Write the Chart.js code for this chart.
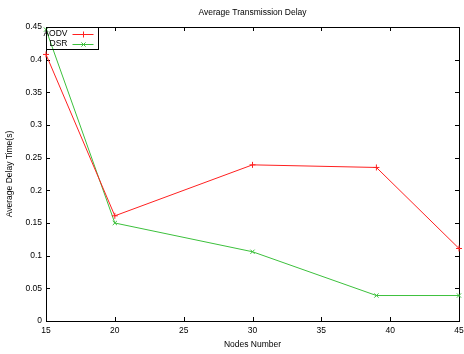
<!DOCTYPE html>
<html>
<head>
<meta charset="utf-8">
<script src="https://cdn.jsdelivr.net/npm/chart.js@4.4.0/dist/chart.umd.min.js"></script>
<style>
  html, body { margin: 0; padding: 0; background: #fff; }
  #wrap { width: 464px; height: 354px; }
</style>
</head>
<body>
<div id="wrap"><canvas id="delayChart"></canvas></div>
<script>
// values
const nodes = [15, 20, 30, 39, 45];
const aodvDelay = [0.408, 0.161, 0.239, 0.235, 0.111];
const dsrDelay = [0.446, 0.150, 0.106, 0.039, 0.039];
const xTicks = [15, 20, 25, 30, 35, 40, 45];
const yTicks = [0, 0.05, 0.1, 0.15, 0.2, 0.25, 0.3, 0.35, 0.4, 0.45];

const FONT = { family: 'Liberation Sans', size: 8.5, weight: 'normal' };

document.addEventListener("DOMContentLoaded", function () {

    /**
     * gnuplot look: frame with inward tick marks on all four sides
     */
    const framePlugin = {
        id: 'frame',
        beforeDatasetsDraw(chart) {
            const ctx = chart.ctx;
            const a = chart.chartArea;
            const xs = chart.scales.x, ys = chart.scales.y;
            ctx.save();
            ctx.strokeStyle = '#000';
            ctx.lineWidth = 1;
            ctx.beginPath();
            xTicks.forEach(function (v) {
                const px = Math.round(xs.getPixelForValue(v)) + 0.5;
                ctx.moveTo(px, a.bottom); ctx.lineTo(px, a.bottom - 4);
                ctx.moveTo(px, a.top); ctx.lineTo(px, a.top + 4);
            });
            yTicks.forEach(function (v) {
                const py = Math.round(ys.getPixelForValue(v)) + 0.5;
                ctx.moveTo(a.left, py); ctx.lineTo(a.left + 4, py);
                ctx.moveTo(a.right, py); ctx.lineTo(a.right - 4, py);
            });
            ctx.stroke();
            ctx.strokeRect(Math.round(a.left) + 0.5, Math.round(a.top) + 0.5,
                Math.round(a.right - a.left), Math.round(a.bottom - a.top));
            ctx.restore();
        },
        // key box in the top-left corner of the plot
        afterDraw(chart) {
            const ctx = chart.ctx;
            const a = chart.chartArea;
            const x0 = Math.round(a.left) + 0.5, y0 = Math.round(a.top) + 0.5;
            ctx.save();
            ctx.strokeStyle = '#000';
            ctx.lineWidth = 1;
            ctx.strokeRect(x0, y0, 52, 22);
            ctx.font = FONT.size + 'px ' + FONT.family;
            ctx.textAlign = 'right';
            ctx.textBaseline = 'middle';
            chart.data.datasets.forEach(function (ds, i) {
                const y = y0 + 6.5 + i * 10;
                ctx.fillStyle = '#000';
                ctx.fillText(ds.label, x0 + 21, y);
                ctx.strokeStyle = ds.borderColor;
                ctx.beginPath();
                ctx.moveTo(x0 + 26, Math.round(y) + 0.5);
                ctx.lineTo(x0 + 47, Math.round(y) + 0.5);
                ctx.stroke();
                Chart.helpers.drawPoint(ctx, {
                    pointStyle: ds.pointStyle, radius: 3, rotation: 0, borderWidth: 1
                }, x0 + 37, Math.round(y) + 0.5);
            });
            ctx.restore();
        }
    };

    new Chart(document.getElementById('delayChart'), {
        type: 'line',
        data: {
            datasets: [{
                label: 'AODV',
                data: nodes.map((n, i) => ({ x: n, y: aodvDelay[i] })),
                borderColor: '#ff2020',
                backgroundColor: '#ff2020',
                borderWidth: 1,
                pointStyle: 'cross',
                pointRadius: 3,
                pointBorderWidth: 1,
                tension: 0
            }, {
                label: 'DSR',
                data: nodes.map((n, i) => ({ x: n, y: dsrDelay[i] })),
                borderColor: '#3cc03c',
                backgroundColor: '#3cc03c',
                borderWidth: 1,
                pointStyle: 'crossRot',
                pointRadius: 3,
                pointBorderWidth: 1,
                tension: 0
            }]
        },
        options: {
            responsive: true,
            maintainAspectRatio: false,
            animation: false,
            clip: false,
            layout: { padding: { left: 0, right: 3, top: 0, bottom: 0 } },
            plugins: {
                legend: { display: false },
                tooltip: { enabled: false },
                title: {
                    display: true,
                    fullSize: false,
                    text: 'Average Transmission Delay',
                    color: '#000',
                    font: FONT,
                    padding: { top: 8, bottom: 8.8 }
                }
            },
            scales: {
                x: {
                    type: 'linear',
                    min: 15,
                    max: 45,
                    afterBuildTicks: function (scale) {
                        scale.ticks = xTicks.map(v => ({ value: v }));
                    },
                    afterFit: function (scale) {
                        scale.height = 33;
                        scale.paddingLeft = 0;
                        scale.paddingRight = 0;
                    },
                    grid: { display: false, drawTicks: false },
                    border: { display: false },
                    ticks: { color: '#000', font: FONT, padding: 5, maxRotation: 0 },
                    title: {
                        display: true,
                        text: 'Nodes Number',
                        color: '#000',
                        font: FONT,
                        padding: { top: 0, bottom: 4 }
                    }
                },
                y: {
                    min: 0,
                    max: 0.45,
                    afterBuildTicks: function (scale) {
                        scale.ticks = yTicks.map(v => ({ value: v }));
                    },
                    afterFit: function (scale) {
                        scale.width = 46;
                        scale.paddingTop = 0;
                        scale.paddingBottom = 0;
                    },
                    grid: { display: false, drawTicks: false },
                    border: { display: false },
                    ticks: {
                        color: '#000',
                        font: FONT,
                        padding: 4,
                        callback: v => String(Number(v.toFixed(2)))
                    },
                    title: {
                        display: true,
                        text: 'Average Delay Time(s)',
                        color: '#000',
                        font: FONT,
                        padding: { top: 5, bottom: 0 }
                    }
                }
            }
        },
        plugins: [framePlugin]
    });
});
</script>
</body>
</html>
